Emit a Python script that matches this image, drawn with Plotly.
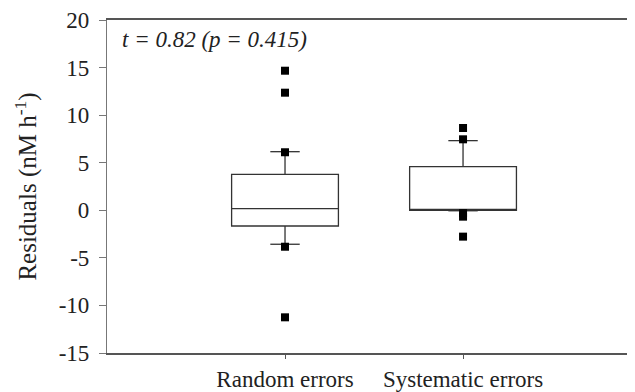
import plotly.graph_objects as go

categories = ["Random errors", "Systematic errors"]
cat_pos = [1, 2]
q1 = [-1.65, 0.0]
median = [0.17, 0.0]
q3 = [3.78, 4.58]
lower_whisker = [-3.57, -0.05]
upper_whisker = [6.16, 7.32]
outliers_random = [14.67, 12.36, 6.1, -3.83, -11.25]
outliers_systematic = [8.65, 7.46, -0.3, -0.67, -2.77]
y_ticks = [-15, -10, -5, 0, 5, 10, 15, 20]
y_tick_labels = [str(v) for v in y_ticks]
annotation_text = "t = 0.82 (p = 0.415)"

SERIF = "Liberation Serif, Times New Roman, serif"
FS = 23

fig = go.Figure()
fig.add_trace(go.Box(
    x=cat_pos, q1=q1, median=median, q3=q3,
    lowerfence=lower_whisker, upperfence=upper_whisker,
    width=0.6, fillcolor="white",
    line=dict(color="#333333", width=1.3),
    whiskerwidth=0, boxpoints=False, showlegend=False,
))
# whisker caps
fig.add_trace(go.Scatter(
    x=cat_pos + cat_pos, y=lower_whisker + upper_whisker, mode="markers",
    marker=dict(symbol="line-ew", size=21, line=dict(color="#333333", width=1.3)),
    showlegend=False, hoverinfo="skip",
))
# outliers
fig.add_trace(go.Scatter(
    x=[cat_pos[0]] * len(outliers_random) + [cat_pos[1]] * len(outliers_systematic),
    y=outliers_random + outliers_systematic, mode="markers",
    marker=dict(symbol="square", size=8, color="black"),
    showlegend=False,
))

fig.add_annotation(
    text=annotation_text, xref="paper", yref="y", x=0.024, y=17.9,
    xanchor="left", yanchor="middle", showarrow=False,
    font=dict(family=SERIF, size=FS, color="#222222", style="italic"),
)

fig.update_layout(
    width=627, height=384,
    margin=dict(l=99, r=0, t=12, b=39),
    paper_bgcolor="white", plot_bgcolor="white",
    font=dict(family=SERIF, size=FS, color="#222222"),
    xaxis=dict(
        range=[0, 2.966], tickmode="array", tickvals=cat_pos, ticktext=categories,
        showgrid=False, zeroline=False, showline=True, linecolor="#555555",
        linewidth=2, mirror=True, ticks="outside", ticklen=4, tickcolor="#555555",
        tickfont=dict(family=SERIF, size=FS, color="#222222"),
        ticklabelstandoff=0, automargin=False,
    ),
    yaxis=dict(
        range=[-15, 20], tickmode="array", tickvals=y_ticks, ticktext=y_tick_labels,
        showgrid=False, zeroline=False,
        showline=True, linecolor="#777777", linewidth=1.2, ticks="outside",
        ticklen=7, tickcolor="#777777",
        tickfont=dict(family=SERIF, size=FS, color="#222222"),
        ticklabelstandoff=5, automargin=False,
        title=dict(text="Residuals (nM h<sup>-1</sup>)", standoff=14,
                   font=dict(family=SERIF, size=25, color="#222222")),
    ),
)

fig.write_html("out.html")
